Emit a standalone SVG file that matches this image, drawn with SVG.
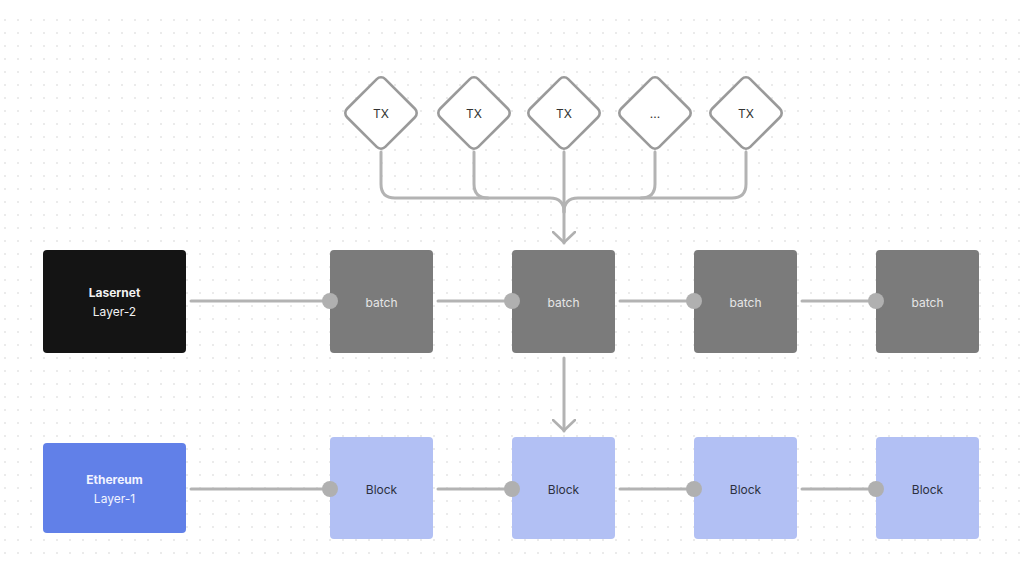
<svg xmlns="http://www.w3.org/2000/svg" width="1024" height="576" viewBox="0 0 1024 576">
<defs>
<pattern id="dots" x="4" y="6" width="13" height="13" patternUnits="userSpaceOnUse">
<circle cx="1" cy="1" r="0.9" fill="#e2e2e2"/>
</pattern>
<marker id="chev" viewBox="0 0 14 24" refX="12.5" refY="12" markerWidth="14" markerHeight="24" markerUnits="userSpaceOnUse" orient="auto">
<path d="M1.5 1 L12 12 L1.5 23" fill="none" stroke="#b0b0b0" stroke-width="2.6" stroke-linecap="round" stroke-linejoin="round"/>
</marker>
<style>
.tx{fill:#fff;stroke:#9a9a9a;stroke-width:2.6;stroke-linejoin:round}
.txt{font-family:Inter,"Liberation Sans",sans-serif;font-size:12px;text-anchor:middle;dominant-baseline:central}
.batch{fill:#7b7b7b}
.block{fill:#b2c0f4}
.con{fill:none;stroke:#b3b3b3;stroke-width:3;stroke-linecap:round}
.dot{fill:#b0b0b0}
</style>
</defs>
<rect width="1024" height="576" fill="#fff"/>
<rect x="0" y="12" width="1024" height="546" fill="url(#dots)"/>

<g id="connectors">
<path class="con" d="M381 152 V184 Q381 198 395 198 H550 Q564 198 564 212"/>
<path class="con" d="M474 152 V184 Q474 198 488 198"/>
<path class="con" d="M746 152 V184 Q746 198 732 198 H578 Q564 198 564 212"/>
<path class="con" d="M655 152 V184 Q655 198 641 198"/>
<path class="con" d="M564 152 V243" marker-end="url(#chev)"/>
<path class="con" d="M564 358 V431" marker-end="url(#chev)"/>
<path class="con" d="M191 301 H330"/>
<path class="con" d="M438 301 H512"/>
<path class="con" d="M620 301 H694"/>
<path class="con" d="M802 301 H876"/>
<path class="con" d="M191 489 H330"/>
<path class="con" d="M438 489 H512"/>
<path class="con" d="M620 489 H694"/>
<path class="con" d="M802 489 H876"/>
</g>

<g id="tx1"><rect class="tx" x="354" y="86" width="54" height="54" rx="6" transform="rotate(45 381 113)"/><text class="txt" x="381" y="113" fill="#333">TX</text></g>
<g id="tx2"><rect class="tx" x="447" y="86" width="54" height="54" rx="6" transform="rotate(45 474 113)"/><text class="txt" x="474" y="113" fill="#333">TX</text></g>
<g id="tx3"><rect class="tx" x="537" y="86" width="54" height="54" rx="6" transform="rotate(45 564 113)"/><text class="txt" x="564" y="113" fill="#333">TX</text></g>
<g id="tx4"><rect class="tx" x="628" y="86" width="54" height="54" rx="6" transform="rotate(45 655 113)"/><text class="txt" x="655" y="113" fill="#333" font-size="10">...</text></g>
<g id="tx5"><rect class="tx" x="719" y="86" width="54" height="54" rx="6" transform="rotate(45 746 113)"/><text class="txt" x="746" y="113" fill="#333">TX</text></g>

<g id="lasernet"><rect x="43" y="250" width="143" height="103" rx="4" fill="#141414"/>
<text class="txt" x="114.5" y="292" fill="#f2f2f2" font-weight="700">Lasernet</text>
<text class="txt" x="114.5" y="311" fill="#f2f2f2">Layer-2</text></g>

<g id="batch1"><rect class="batch" x="330" y="250" width="103" height="103" rx="4"/><text class="txt" x="381.5" y="302" fill="#e6e6e6">batch</text></g>
<g id="batch2"><rect class="batch" x="512" y="250" width="103" height="103" rx="4"/><text class="txt" x="563.5" y="302" fill="#e6e6e6">batch</text></g>
<g id="batch3"><rect class="batch" x="694" y="250" width="103" height="103" rx="4"/><text class="txt" x="745.5" y="302" fill="#e6e6e6">batch</text></g>
<g id="batch4"><rect class="batch" x="876" y="250" width="103" height="103" rx="4"/><text class="txt" x="927.5" y="302" fill="#e6e6e6">batch</text></g>

<g id="ethereum"><rect x="43" y="443" width="143" height="90" rx="4" fill="#6180e8"/>
<text class="txt" x="114.5" y="479" fill="#f2f4ff" font-weight="700">Ethereum</text>
<text class="txt" x="114.5" y="498" fill="#f2f4ff">Layer-1</text></g>

<g id="block1"><rect class="block" x="330" y="437" width="103" height="102" rx="4"/><text class="txt" x="381.5" y="489" fill="#2c3040">Block</text></g>
<g id="block2"><rect class="block" x="512" y="437" width="103" height="102" rx="4"/><text class="txt" x="563.5" y="489" fill="#2c3040">Block</text></g>
<g id="block3"><rect class="block" x="694" y="437" width="103" height="102" rx="4"/><text class="txt" x="745.5" y="489" fill="#2c3040">Block</text></g>
<g id="block4"><rect class="block" x="876" y="437" width="103" height="102" rx="4"/><text class="txt" x="927.5" y="489" fill="#2c3040">Block</text></g>

<g id="ports">
<circle class="dot" cx="330" cy="301" r="8"/>
<circle class="dot" cx="512" cy="301" r="8"/>
<circle class="dot" cx="694" cy="301" r="8"/>
<circle class="dot" cx="876" cy="301" r="8"/>
<circle class="dot" cx="330" cy="489" r="8"/>
<circle class="dot" cx="512" cy="489" r="8"/>
<circle class="dot" cx="694" cy="489" r="8"/>
<circle class="dot" cx="876" cy="489" r="8"/>
</g>
</svg>
